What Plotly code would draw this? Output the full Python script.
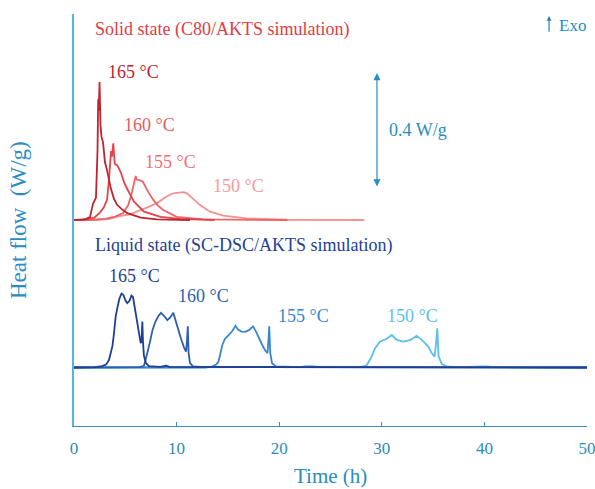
import plotly.graph_objects as go

# ---------------- data (time in h, heat flow in W/g above each baseline) -------------
solid_offset = 0.513  # vertical offset of the solid-state group (W/g)

s165_t = [0, 1.07, 1.56, 1.85, 2.14, 2.29, 2.36, 2.41, 2.49, 2.58, 2.68, 2.83, 3.02, 3.22, 3.58, 3.90, 4.22, 4.68, 5.19, 6.50, 8.09, 11.3]
s165_h = [0, 0.002, 0.010, 0.056, 0.077, 0.24, 0.42, 0.38, 0.48, 0.33, 0.29, 0.27, 0.20, 0.174, 0.111, 0.073, 0.052, 0.037, 0.024, 0.008, 0.0025, 0]

s160_t = [0, 0.58, 1.95, 2.53, 2.92, 3.22, 3.41, 3.61, 3.70, 3.83, 3.97, 4.22, 4.55, 4.87, 5.19, 5.85, 6.82, 8.45, 10.3, 13.7]
s160_h = [0, 0, 0.007, 0.026, 0.045, 0.070, 0.14, 0.24, 0.22, 0.267, 0.195, 0.19, 0.167, 0.132, 0.108, 0.064, 0.029, 0.011, 0.004, 0]

s155_t = [0, 1.56, 3.02, 4.00, 4.78, 5.29, 5.62, 5.85, 6.01, 6.14, 6.34, 6.70, 6.97, 7.24, 7.73, 8.19, 8.70, 10.0, 12.57, 15.2, 20.8]
s155_h = [0, 0, 0.004, 0.012, 0.024, 0.052, 0.092, 0.13, 0.153, 0.14, 0.139, 0.134, 0.115, 0.097, 0.070, 0.050, 0.035, 0.011, 0.002, 0.0007, 0]

s150_t = [0, 2.05, 3.51, 4.48, 5.46, 6.43, 7.21, 8.06, 8.67, 9.03, 9.68, 10.14, 10.65, 11.01, 11.47, 11.89, 12.28, 13.26, 14.55, 16.83, 20.73, 28.3]
s150_h = [0, 0, 0.004, 0.014, 0.020, 0.033, 0.045, 0.058, 0.073, 0.082, 0.093, 0.095, 0.097, 0.093, 0.079, 0.063, 0.052, 0.029, 0.015, 0.006, 0.001, 0]

l165_t = [0, 2.05, 2.73, 3.12, 3.41, 3.61, 3.75, 3.90, 4.06, 4.24, 4.43, 4.63, 4.82, 5.02, 5.19, 5.41, 5.60, 5.75, 5.95, 6.14, 6.34, 6.50, 6.58, 6.66, 6.73, 6.82, 7.02, 7.31, 8.4, 8.8, 9.0, 9.3, 50]
l165_h = [0, 0.001, 0.005, 0.010, 0.026, 0.050, 0.075, 0.12, 0.177, 0.21, 0.24, 0.257, 0.252, 0.233, 0.224, 0.232, 0.25, 0.245, 0.20, 0.15, 0.12, 0.085, 0.09, 0.16, 0.085, 0.04, 0.015, 0.005, 0.002, 0.006, 0.006, 0.002, 0]

l160_t = [0, 6.43, 6.82, 7.02, 7.21, 7.41, 7.65, 7.94, 8.24, 8.48, 8.77, 9.09, 9.40, 9.68, 9.89, 10.14, 10.43, 10.72, 10.92, 11.01, 11.09, 11.17, 11.31, 11.6, 12.3, 50]
l160_h = [0, 0.001, 0.006, 0.030, 0.060, 0.090, 0.13, 0.16, 0.18, 0.19, 0.18, 0.165, 0.175, 0.19, 0.165, 0.13, 0.10, 0.07, 0.055, 0.09, 0.143, 0.05, 0.015, 0.004, 0.002, 0]

l155_t = [0, 12.77, 13.45, 13.84, 14.08, 14.28, 14.47, 14.72, 15.06, 15.40, 15.74, 15.98, 16.33, 16.67, 17.06, 17.45, 17.74, 18.03, 18.32, 18.62, 18.86, 18.96, 19.03, 19.13, 19.30, 19.69, 22.0, 22.6, 23.3, 24.0, 50]
l155_h = [0, 0, 0.003, 0.010, 0.020, 0.055, 0.080, 0.10, 0.113, 0.125, 0.145, 0.132, 0.125, 0.124, 0.13, 0.143, 0.125, 0.10, 0.08, 0.06, 0.05, 0.10, 0.143, 0.05, 0.015, 0.004, 0.001, 0.004, 0.004, 0.001, 0]

l150_t = [0, 27.39, 28.07, 28.53, 28.75, 29.01, 29.34, 29.82, 30.48, 30.97, 31.45, 32.10, 32.75, 33.40, 33.89, 34.53, 34.86, 35.14, 35.28, 35.41, 35.53, 35.84, 36.33, 37.6, 39.8, 40.3, 40.8, 50]
l150_h = [0, 0, 0.002, 0.008, 0.020, 0.038, 0.067, 0.090, 0.10, 0.113, 0.096, 0.09, 0.095, 0.11, 0.096, 0.073, 0.050, 0.038, 0.08, 0.136, 0.04, 0.012, 0.004, 0.001, 0.004, 0.004, 0.001, 0]

temps = ["150 °C", "155 °C", "160 °C", "165 °C"]
x_ticks = [0, 10, 20, 30, 40, 50]
solid_colors = ["#f5928f", "#ee6468", "#e3434b", "#c0242c"]
liquid_colors = ["#5cbfea", "#3a86cc", "#2d5fae", "#1e3f96"]

solid_series = [(s150_t, s150_h), (s155_t, s155_h), (s160_t, s160_h), (s165_t, s165_h)]
liquid_series = [(l150_t, l150_h), (l155_t, l155_h), (l160_t, l160_h), (l165_t, l165_h)]

FONT = "Liberation Serif"
AX = "#2a8cc0"

fig = go.Figure()
for (t, h), c, name in zip(solid_series, solid_colors, temps):
    fig.add_trace(go.Scatter(x=t, y=[v + solid_offset for v in h], mode="lines",
                             line=dict(color=c, width=1.8), name="Solid " + name))
for (t, h), c, name in zip(liquid_series, liquid_colors, temps):
    fig.add_trace(go.Scatter(x=t, y=h, mode="lines",
                             line=dict(color=c, width=1.8), name="Liquid " + name))

ann = []
# temperature labels
solid_lab = [(16.08, 0.631), (9.45, 0.715), (7.31, 0.8435), (5.81, 1.028)]
liquid_lab = [(33.04, 0.179), (22.32, 0.179), (12.67, 0.2487), (5.85, 0.318)]
solid_lab_col = ["#f59a9c", "#ee7075", "#e85a60", "#c0242c"]
for (x, y), c, name in zip(solid_lab, solid_lab_col, temps):
    ann.append(dict(x=x, y=y, text=name, showarrow=False, font=dict(family=FONT, size=18, color=c)))
for (x, y), c, name in zip(liquid_lab, liquid_colors, temps):
    ann.append(dict(x=x, y=y, text=name, showarrow=False, font=dict(family=FONT, size=18, color=c)))

ann.append(dict(x=1.85, y=1.1774, text="Solid state (C80/AKTS simulation)", showarrow=False,
                xanchor="left", font=dict(family=FONT, size=18, color="#e03c44")))
ann.append(dict(x=1.85, y=0.4261, text="Liquid state (SC-DSC/AKTS simulation)", showarrow=False,
                xanchor="left", font=dict(family=FONT, size=18, color="#1e3f96")))

# 0.4 W/g scale bar
ann.append(dict(x=29.53, y=1.0243, ax=29.53, ay=0.6243, xref="x", yref="y", axref="x", ayref="y",
                text="", showarrow=True, arrowhead=2, arrowside="end+start", arrowsize=1.2,
                arrowwidth=1.2, arrowcolor="#2a8cc0"))
ann.append(dict(x=30.5, y=0.826, text="0.4 W/g", showarrow=False, xanchor="left",
                font=dict(family=FONT, size=18, color=AX)))
# Exo arrow
ann.append(dict(x=46.3, y=1.2226, ax=46.3, ay=1.163, xref="x", yref="y", axref="x", ayref="y",
                text="", showarrow=True, arrowhead=2, arrowsize=0.8, arrowwidth=1.2, arrowcolor="#2a7fb0"))
ann.append(dict(x=47.1, y=1.19, text="Exo", showarrow=False, xanchor="left",
                font=dict(family=FONT, size=17, color=AX)))

# axis titles
ann.append(dict(x=(18 - 74) / 513, y=0.5, xref="paper", yref="paper", text="Heat flow  (W/g)",
                xanchor="center", yanchor="middle",
                textangle=-90, showarrow=False, font=dict(family=FONT, size=23, color=AX)))
ann.append(dict(x=0.5, y=(426 - 476) / 412, xref="paper", yref="paper", text="Time (h)",
                xanchor="center", yanchor="middle",
                showarrow=False, font=dict(family=FONT, size=21, color=AX)))

fig.update_layout(
    width=595, height=489,
    margin=dict(l=74, r=8, t=14, b=63, autoexpand=False),
    paper_bgcolor="white", plot_bgcolor="white",
    showlegend=False,
    annotations=ann,
    xaxis=dict(range=[0, 50], tickvals=x_ticks, ticks="inside", ticklen=4,
               tickcolor="#3a8fc0", showline=True, linecolor="#3a8fc0", linewidth=1.2,
               showgrid=False, zeroline=False, ticklabelstandoff=6, automargin=False,
               ticklabeloverflow="allow",
               tickfont=dict(family=FONT, size=17, color=AX)),
    yaxis=dict(range=[-0.2035, 1.2296], showticklabels=False, ticks="", showline=True,
               linecolor="#55b5e0", linewidth=1.5, showgrid=False, zeroline=False, automargin=False),
)

fig.write_html("out.html")
